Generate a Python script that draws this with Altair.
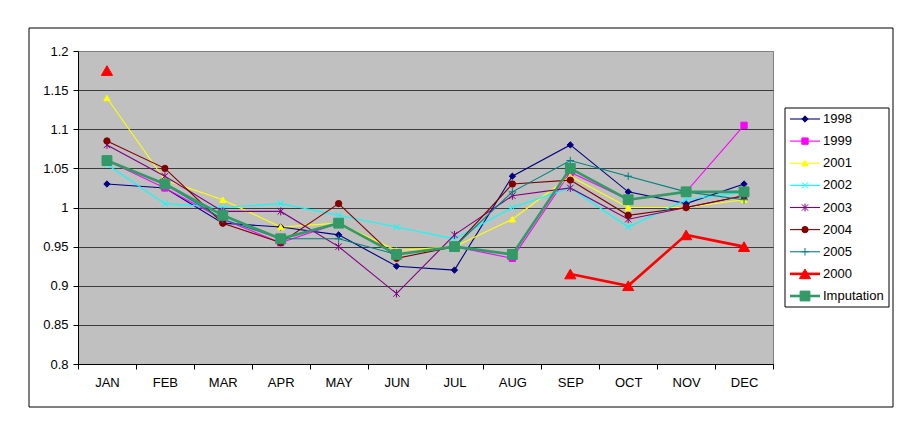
import altair as alt
import pandas as pd

FONT = "Liberation Sans"

months = ["JAN", "FEB", "MAR", "APR", "MAY", "JUN", "JUL", "AUG", "SEP", "OCT", "NOV", "DEC"]
series_names = ["1998", "1999", "2001", "2002", "2003", "2004", "2005", "2000", "Imputation"]
thick_series = ["2000", "Imputation"]

v1998 = [1.03, 1.025, 0.98, 0.975, 0.965, 0.925, 0.92, 1.04, 1.08, 1.02, 1.005, 1.03]
v1999 = [1.06, 1.025, 0.985, 0.955, 0.98, 0.94, 0.95, 0.935, 1.045, 1.01, 1.02, 1.105]
v2001 = [1.14, 1.035, 1.01, 0.975, 0.98, 0.945, 0.95, 0.985, 1.04, 1.0, 1.0, 1.01]
v2002 = [1.055, 1.005, 1.0, 1.005, 0.99, 0.975, 0.96, 1.0, 1.025, 0.975, 1.01, 1.02]
v2003 = [1.08, 1.04, 0.995, 0.995, 0.95, 0.89, 0.965, 1.015, 1.025, 0.985, 1.0, 1.015]
v2004 = [1.085, 1.05, 0.98, 0.955, 1.005, 0.935, 0.95, 1.03, 1.035, 0.99, 1.0, 1.015]
v2005 = [1.06, 1.03, 0.985, 0.96, 0.96, 0.94, 0.95, 1.02, 1.06, 1.04, 1.02, 1.01]
v2000 = [1.175, None, None, None, None, None, None, None, 0.915, 0.9, 0.965, 0.95]
vImputation = [1.06, 1.03, 0.99, 0.96, 0.98, 0.94, 0.95, 0.94, 1.05, 1.01, 1.02, 1.02]

y_ticks = [0.8, 0.85, 0.9, 0.95, 1.0, 1.05, 1.1, 1.15, 1.2]

colors = ["#000080", "#FF00FF", "#FFFF00", "#00FFFF", "#800080", "#800000", "#008080", "#FF0000", "#339966"]
shapes = [
    "diamond",
    "square",
    "triangle-up",
    "M-1,-1L1,1M-1,1L1,-1",
    "M-1,-1L1,1M-1,1L1,-1M0,-1.25L0,1.25",
    "circle",
    "M-1.2,0L1.2,0M0,-1.2L0,1.2",
    "triangle-up",
    "M-0.88,-0.88L0.88,-0.88L0.88,0.88L-0.88,0.88Z",
]

values = {
    "1998": v1998, "1999": v1999, "2001": v2001, "2002": v2002, "2003": v2003,
    "2004": v2004, "2005": v2005, "2000": v2000, "Imputation": vImputation,
}

rows = []
for s in series_names:
    seg = 0
    gap = False
    for i, (m, v) in enumerate(zip(months, values[s])):
        if v is None:
            gap = True
            continue
        if gap:
            seg += 1
            gap = False
        rows.append({"series": s, "month": m, "mi": i, "value": v, "seg": seg})
df = pd.DataFrame(rows)
legend_df = pd.DataFrame({"series": series_names})
one_row = pd.DataFrame({"k": [0]})

color_scale = alt.Scale(domain=series_names, range=colors)
shape_scale = alt.Scale(domain=series_names, range=shapes)

x_enc = alt.X(
    "month:O",
    sort=months,
    scale=alt.Scale(type="band", domain=months, paddingInner=0, paddingOuter=0),
    bandPosition=0.5,
    axis=alt.Axis(title=None, labelAngle=0, tickBand="extent", tickSize=5,
                  labelPadding=7, grid=False, labelOverlap=False),
)
y_enc = alt.Y(
    "value:Q",
    scale=alt.Scale(domain=[0.8, 1.2], nice=False, zero=False),
    axis=alt.Axis(values=y_ticks, format=".2~f", title=None, grid=True,
                  gridColor={"expr": "datum.value > 1.19 ? '#808080' : '#3c3c3c'"},
                  gridWidth=1, tickSize=5, labelPadding=5),
)

def is_thick(flag):
    cond = " || ".join(f"datum.series == '{s}'" for s in thick_series)
    return f"({cond})" if flag else f"!({cond})"

base = alt.Chart(df)

def line_layer(thick):
    return base.transform_filter(is_thick(thick)).mark_line(
        strokeWidth=2.6 if thick else 1.1
    ).encode(
        x=x_enc, y=y_enc,
        color=alt.Color("series:N", scale=color_scale, legend=None),
        detail="seg:N",
        order=alt.Order("mi:Q"),
    )

def point_layer(thick):
    return base.transform_filter(is_thick(thick)).mark_point(
        filled=True, opacity=1, strokeWidth=1, size=125 if thick else 40
    ).encode(
        x=x_enc, y=y_enc,
        color=alt.Color("series:N", scale=color_scale, legend=None),
        stroke=alt.Stroke("series:N", scale=color_scale, legend=None),
        shape=alt.Shape("series:N", scale=shape_scale, legend=None),
    )

main = alt.layer(
    line_layer(False), point_layer(False), line_layer(True), point_layer(True)
)

# legend built from the same scales
leg_y = alt.Y("series:N", sort=series_names,
              scale=alt.Scale(type="point", domain=series_names, range=[68, 245], padding=0),
              axis=None)
leg_base = alt.Chart(legend_df)

def leg_rule(thick):
    return leg_base.transform_filter(is_thick(thick)).mark_rule(
        strokeWidth=2.6 if thick else 1.1
    ).encode(
        x=alt.value(712), x2=alt.value(742), y=leg_y,
        color=alt.Color("series:N", scale=color_scale, legend=None),
    )

def leg_point(thick):
    return leg_base.transform_filter(is_thick(thick)).mark_point(
        filled=True, opacity=1, strokeWidth=1, size=125 if thick else 40
    ).encode(
        x=alt.value(727), y=leg_y,
        color=alt.Color("series:N", scale=color_scale, legend=None),
        stroke=alt.Stroke("series:N", scale=color_scale, legend=None),
        shape=alt.Shape("series:N", scale=shape_scale, legend=None),
    )

leg_box = alt.Chart(one_row).mark_rect(fill="white", stroke="black", strokeWidth=1).encode(
    x=alt.value(707), x2=alt.value(811), y=alt.value(57), y2=alt.value(256)
)
leg_text = leg_base.mark_text(align="left", baseline="middle", font=FONT, fontSize=13,
                              color="black").encode(
    x=alt.value(745), y=leg_y, text="series:N"
)
legend = alt.layer(leg_box, leg_rule(False), leg_rule(True), leg_point(False),
                   leg_point(True), leg_text)

frame = alt.Chart(one_row).mark_rect(fillOpacity=0, stroke="black", strokeWidth=1).encode(
    x=alt.value(-49), x2=alt.value(815), y=alt.value(-23), y2=alt.value(356)
)

chart = alt.layer(frame, main, legend).resolve_scale(y="independent").properties(
    width=695, height=313,
    autosize=alt.AutoSizeParams(type="none"),
    padding={"left": 70, "top": 43, "right": 130, "bottom": 55},
    background="white",
).configure_view(
    fill="#C0C0C0", stroke="#808080", strokeWidth=1
).configure_axis(
    labelFont=FONT, labelFontSize=13, labelColor="black",
    domainColor="black", tickColor="black", domainWidth=1, tickWidth=1,
)

chart.save("out.html", embed_options={"renderer": "svg", "actions": False})
